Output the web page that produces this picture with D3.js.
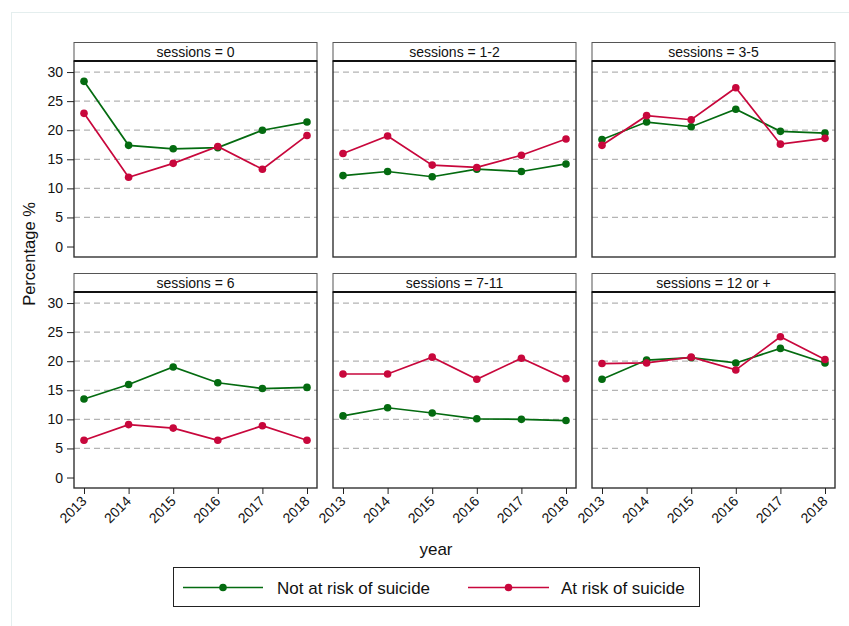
<!DOCTYPE html>
<html>
<head>
<meta charset="utf-8">
<script src="https://cdn.jsdelivr.net/npm/d3@7"></script>
<style>
  html, body { margin: 0; padding: 0; background: #fff; }
  svg { display: block; font-family: "Liberation Sans", Arial, sans-serif; }
</style>
</head>
<body>
<svg id="chart" width="849" height="626"></svg>
<script>
// Years on the x axis
const years = [2013, 2014, 2015, 2016, 2017, 2018];
// Facet titles (number of sessions)
const panels = ["sessions = 0", "sessions = 1-2", "sessions = 3-5",
                "sessions = 6", "sessions = 7-11", "sessions = 12 or +"];
// Percentage per year, one row per facet
const notAtRisk = [
  [28.4, 17.4, 16.8, 17.0, 20.0, 21.4],
  [12.2, 12.9, 12.0, 13.3, 12.9, 14.2],
  [18.4, 21.4, 20.6, 23.6, 19.8, 19.5],
  [13.5, 16.0, 19.0, 16.3, 15.3, 15.5],
  [10.6, 12.0, 11.1, 10.1, 10.0, 9.8],
  [16.9, 20.2, 20.6, 19.7, 22.2, 19.7]
];
const atRisk = [
  [22.9, 11.9, 14.3, 17.2, 13.3, 19.1],
  [16.0, 19.0, 14.0, 13.6, 15.7, 18.5],
  [17.4, 22.5, 21.8, 27.3, 17.6, 18.6],
  [6.4, 9.1, 8.5, 6.4, 8.9, 6.4],
  [17.8, 17.8, 20.7, 16.9, 20.5, 17.0],
  [19.6, 19.7, 20.7, 18.5, 24.2, 20.3]
];
const yTicks = [0, 5, 10, 15, 20, 25, 30];
const seriesNames = ["Not at risk of suicide", "At risk of suicide"];
const seriesColors = ["#046b10", "#c8073c"];

const svg = d3.select("#chart");

// faint outer frame
svg.append("rect").attr("x", 11.5).attr("y", 12.5).attr("width", 900).attr("height", 700)
  .attr("fill", "none").attr("stroke", "#e4eeee");

const colX = [74, 333, 592];
const panelW = 243;
const rowTop = [42, 273];
const headH = 19;
const plotH = 196;

const x = d3.scalePoint().domain(years).range([10, panelW - 10]);
const y = d3.scaleLinear().domain([-1.8, 31.9]).range([plotH, 0]);

const line = d3.line().x((d, i) => x(years[i])).y(d => y(d));

panels.forEach((title, p) => {
  const col = p % 3, row = Math.floor(p / 3);
  const g = svg.append("g").attr("transform", `translate(${colX[col]},${rowTop[row]})`);

  // header strip
  g.append("rect").attr("x", 0).attr("y", 0.5).attr("width", panelW).attr("height", headH)
    .attr("fill", "#fff").attr("stroke", "#555").attr("stroke-width", 1);
  g.append("text").attr("x", panelW / 2).attr("y", headH / 2 + 5)
    .attr("text-anchor", "middle").attr("font-size", 14).attr("fill", "#111").text(title);

  const pg = g.append("g").attr("transform", `translate(0,${headH})`);

  // dashed grid
  pg.selectAll("line.grid").data(yTicks.filter(t => t > 0)).join("line")
    .attr("class", "grid")
    .attr("x1", 0).attr("x2", panelW)
    .attr("y1", d => y(d)).attr("y2", d => y(d))
    .attr("stroke", "#b4b4b4").attr("stroke-width", 1.2).attr("stroke-dasharray", "6,4");

  // series lines and markers
  [notAtRisk[p], atRisk[p]].forEach((vals, s) => {
    pg.append("path").datum(vals).attr("d", line)
      .attr("fill", "none").attr("stroke", seriesColors[s]).attr("stroke-width", 1.7);
    pg.selectAll(`circle.s${s}`).data(vals).join("circle")
      .attr("class", `s${s}`)
      .attr("cx", (d, i) => x(years[i])).attr("cy", d => y(d)).attr("r", 3.8)
      .attr("fill", seriesColors[s]);
  });

  // plot frame
  pg.append("rect").attr("x", 0).attr("y", 0).attr("width", panelW).attr("height", plotH)
    .attr("fill", "none").attr("stroke", "#333").attr("stroke-width", 1.4);
  pg.append("line").attr("x1", 0).attr("x2", panelW).attr("y1", 0).attr("y2", 0)
    .attr("stroke", "#111").attr("stroke-width", 2.2);

  // y axis on first column
  if (col === 0) {
    const ya = pg.append("g").call(d3.axisLeft(y).tickValues(yTicks).tickSize(7).tickPadding(4));
    ya.select(".domain").remove();
    ya.selectAll("line").attr("stroke", "#222");
    ya.selectAll("text").attr("font-size", 14).attr("fill", "#111")
      .attr("font-family", "Liberation Sans, Arial, sans-serif");
  }
  // x axis on bottom row, labels turned 45 degrees
  if (row === 1) {
    const xa = pg.append("g").attr("transform", `translate(0,${plotH})`)
      .call(d3.axisBottom(x).tickSize(6).tickPadding(2));
    xa.select(".domain").remove();
    xa.selectAll("line").attr("stroke", "#222");
    xa.selectAll("text").attr("font-size", 14).attr("fill", "#111")
      .attr("font-family", "Liberation Sans, Arial, sans-serif")
      .attr("text-anchor", "end")
      .attr("y", 0)
      .attr("dy", "0.35em")
      .attr("transform", "translate(-0.5,10.5) rotate(-45)");
  }
});

// axis titles
svg.append("text").attr("transform", "translate(35,254) rotate(-90)")
  .attr("text-anchor", "middle").attr("font-size", 16.5).attr("fill", "#111").text("Percentage %");
svg.append("text").attr("x", 436).attr("y", 555)
  .attr("text-anchor", "middle").attr("font-size", 17).attr("fill", "#111").text("year");

// legend
const lg = svg.append("g");
lg.append("rect").attr("x", 173.5).attr("y", 567.5).attr("width", 526).attr("height", 39)
  .attr("fill", "#fff").attr("stroke", "#222").attr("stroke-width", 1);
const legendItems = [
  { x1: 183, x2: 263, tx: 277 },
  { x1: 468, x2: 549, tx: 561 }
];
legendItems.forEach((it, s) => {
  lg.append("line").attr("x1", it.x1).attr("x2", it.x2).attr("y1", 587.5).attr("y2", 587.5)
    .attr("stroke", seriesColors[s]).attr("stroke-width", 1.7);
  lg.append("circle").attr("cx", (it.x1 + it.x2) / 2).attr("cy", 587.5).attr("r", 3.8)
    .attr("fill", seriesColors[s]);
  lg.append("text").attr("x", it.tx).attr("y", 593.5).attr("font-size", 17).attr("fill", "#111")
    .text(seriesNames[s]);
});
</script>
</body>
</html>
